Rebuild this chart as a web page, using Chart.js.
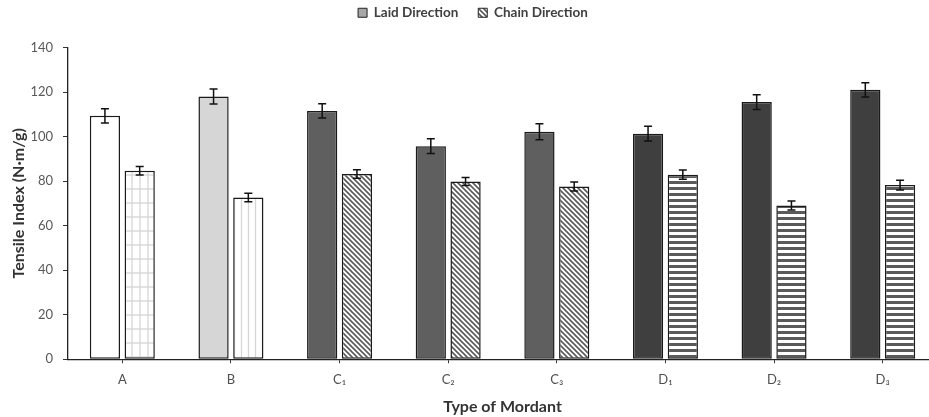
<!DOCTYPE html>
<html>
<head>
<meta charset="utf-8">
<script src="https://cdn.jsdelivr.net/npm/chart.js@4.4.0/dist/chart.umd.min.js"></script>
<style>
  html, body { margin: 0; padding: 0; background: #fff; overflow: hidden; }
  #wrap { width: 945px; height: 417px; position: relative; }
</style>
</head>
<body>
<div id="wrap"><canvas id="chart"></canvas></div>
<script>
// Data
const categories = ['A', 'B', 'C₁', 'C₂', 'C₃', 'D₁', 'D₂', 'D₃'];
const laidValues = [109.3, 118.0, 111.5, 95.7, 102.2, 101.3, 115.5, 121.0];
const laidErrors = [3.2, 3.4, 3.2, 3.3, 3.6, 3.3, 3.3, 3.2];
const chainValues = [84.6, 72.6, 83.2, 79.8, 77.6, 82.9, 69.0, 78.2];
const chainErrors = [1.9, 1.9, 1.9, 1.8, 2.0, 2.1, 2.0, 2.2];
const yTicks = [0, 20, 40, 60, 80, 100, 120, 140];

const ctx = document.getElementById('chart').getContext('2d');
const font = "Lato, 'Noto Sans', sans-serif";

// Pattern helper
function makePattern(w, h, draw) {
  const c = document.createElement('canvas');
  c.width = w; c.height = h;
  const g = c.getContext('2d');
  g.fillStyle = '#fff';
  g.fillRect(0, 0, w, h);
  draw(g, w, h);
  return ctx.createPattern(c, 'repeat');
}

const gridPattern = makePattern(8, 14, (g, w, h) => {
  g.strokeStyle = '#d2d2d2'; g.lineWidth = 1.2;
  g.beginPath(); g.moveTo(4, 0); g.lineTo(4, h); g.stroke();
  g.beginPath(); g.moveTo(0, 7); g.lineTo(w, 7); g.stroke();
});
const vertPattern = makePattern(7, 4, (g, w, h) => {
  g.strokeStyle = '#d6d6d6'; g.lineWidth = 1.3;
  g.beginPath(); g.moveTo(3.5, 0); g.lineTo(3.5, h); g.stroke();
});
const diagPattern = makePattern(5, 5, (g, w, h) => {
  g.strokeStyle = '#5a5a5a'; g.lineWidth = 1.6;
  g.beginPath();
  g.moveTo(-1, -1); g.lineTo(w + 1, h + 1);
  g.moveTo(-1 - w, -1); g.lineTo(1, h + 1);
  g.moveTo(w - 1, -1); g.lineTo(2 * w + 1, h + 1);
  g.stroke();
});
const horizPattern = makePattern(4, 6, (g, w, h) => {
  g.fillStyle = '#5a5a5a';
  g.fillRect(0, 1, w, 3);
});

const laidColors = ['#ffffff', '#d6d6d6', '#5f5f5f', '#5f5f5f', '#5f5f5f', '#3f3f3f', '#3f3f3f', '#3f3f3f'];
const chainColors = [gridPattern, vertPattern, diagPattern, diagPattern, diagPattern, horizPattern, horizPattern, horizPattern];

// Error bars drawn through the chart's own scales
const errorBars = {
  id: 'errorBars',
  afterDatasetsDraw(chart) {
    const g = chart.ctx;
    const y = chart.scales.y;
    const errs = [laidErrors, chainErrors];
    g.save();
    g.strokeStyle = '#111';
    g.lineWidth = 1.5;
    chart.data.datasets.forEach((ds, di) => {
      const meta = chart.getDatasetMeta(di);
      meta.data.forEach((bar, i) => {
        const v = ds.data[i], e = errs[di][i];
        const yt = y.getPixelForValue(v + e), yb = y.getPixelForValue(v - e);
        g.beginPath();
        g.moveTo(bar.x, yt); g.lineTo(bar.x, yb);
        g.moveTo(bar.x - 4, yt); g.lineTo(bar.x + 4, yt);
        g.moveTo(bar.x - 4, yb); g.lineTo(bar.x + 4, yb);
        g.stroke();
      });
    });
    g.restore();
  }
};

// give the legend some extra room below it
const legendGap = {
  id: 'legendGap',
  beforeInit(chart) {
    const fit = chart.legend.fit;
    chart.legend.fit = function () {
      fit.bind(chart.legend)();
      this.height += 18;
    };
  }
};

const chart = new Chart(ctx, {
  type: 'bar',
  data: {
    labels: categories,
    datasets: [
      {
        label: 'Laid Direction',
        data: laidValues,
        backgroundColor: laidColors,
        borderColor: '#1a1a1a',
        borderWidth: 1.5,
        borderSkipped: false,
        categoryPercentage: 0.64,
        barPercentage: 0.87
      },
      {
        label: 'Chain Direction',
        data: chainValues,
        backgroundColor: chainColors,
        borderColor: '#1a1a1a',
        borderWidth: 1.5,
        borderSkipped: false,
        categoryPercentage: 0.64,
        barPercentage: 0.87
      }
    ]
  },
  options: {
    responsive: true,
    maintainAspectRatio: false,
    animation: false,
    layout: { padding: { top: -14, right: 8, bottom: 1, left: 9 } },
    scales: {
      x: {
        grid: { offset: false, drawOnChartArea: false, tickLength: 4, color: '#333' },
        border: { color: '#222', width: 1.3 },
        ticks: { color: '#505050', font: { family: font, size: 13 }, padding: 9 },
        title: {
          display: true, text: 'Type of Mordant', color: '#333',
          font: { family: font, size: 16, weight: 'bold' }, padding: { top: 0, bottom: 0 }
        }
      },
      y: {
        min: 0, max: 140,
        afterBuildTicks: axis => { axis.ticks = yTicks.map(v => ({ value: v })); },
        afterFit: axis => { axis.width = 59; },
        grid: { drawOnChartArea: false, tickLength: 5, color: '#333' },
        border: { color: '#222', width: 1.3 },
        ticks: { color: '#595959', font: { family: font, size: 13 }, padding: 10 },
        title: {
          display: true, text: 'Tensile Index (N·m/g)', color: '#333',
          font: { family: font, size: 16, weight: 'bold' }, padding: { top: 0, bottom: 4 }
        }
      }
    },
    plugins: {
      legend: {
        position: 'top',
        labels: {
          boxWidth: 9, boxHeight: 9, padding: 20,
          color: '#404040',
          font: { family: font, size: 13.5, weight: 'bold' },
          generateLabels: () => [
            { text: 'Laid Direction', fillStyle: '#a6a6a6', strokeStyle: '#222', lineWidth: 1, datasetIndex: 0, fontColor: '#404040' },
            { text: 'Chain Direction', fillStyle: diagPattern, strokeStyle: '#222', lineWidth: 1, datasetIndex: 1, fontColor: '#404040' }
          ]
        }
      },
      tooltip: { enabled: false }
    }
  },
  plugins: [errorBars, legendGap]
});
</script>
</body>
</html>
